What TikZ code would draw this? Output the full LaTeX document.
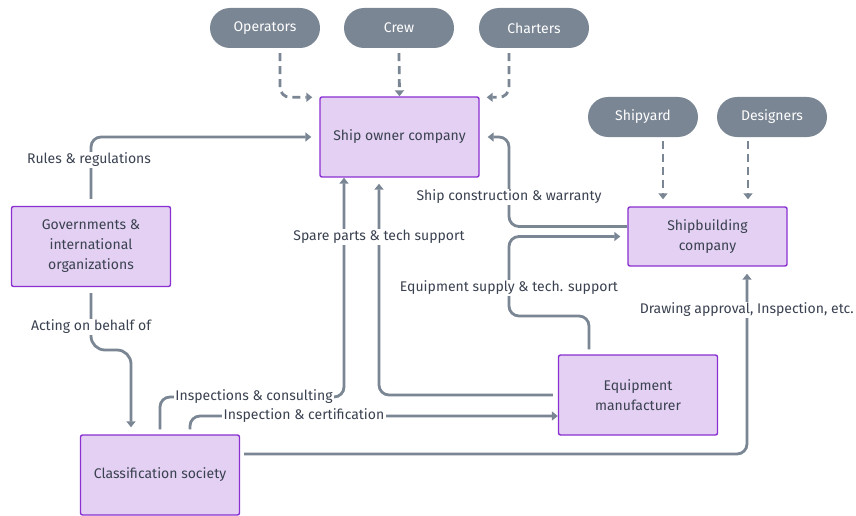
\documentclass[tikz,border=0pt]{standalone}
\usepackage{fontspec}
\setmainfont{Fira Sans}
\usetikzlibrary{arrows.meta,calc}
\definecolor{lineg}{HTML}{7A8694}
\definecolor{boxfill}{HTML}{E3D0F3}
\definecolor{boxdraw}{HTML}{8A2FD0}
\definecolor{txt}{HTML}{3A4150}
\tikzset{
  pill/.style={fill=lineg, text=white, rounded corners=20pt, minimum width=110pt, minimum height=40pt, font=\fontsize{14}{17}\selectfont, inner sep=0pt},
  entity/.style={fill=boxfill, draw=boxdraw, line width=1.4pt, rounded corners=2pt, minimum width=159pt, minimum height=80pt, text=txt, align=center, font=\fontsize{14}{20}\selectfont, inner sep=0pt},
  conn/.style={draw=lineg, line width=2.8pt, rounded corners=10pt, -{Triangle[length=6pt,width=9pt]}},
  dashconn/.style={conn, dash pattern=on 8pt off 5pt},
  lbl/.style={fill=white, text=txt, font=\fontsize{14}{17}\selectfont, inner sep=1.5pt}
}
\begin{document}
\begin{tikzpicture}[x=1pt,y=-1pt]
\useasboundingbox (0,0) rectangle (856,516);
% pills
\node[pill] (ops) at (265,28) {Operators};
\node[pill] (crew) at (399,28) {Crew};
\node[pill] (chart) at (534,28) {Charters};
\node[pill] (yard) at (643,117) {Shipyard};
\node[pill] (des) at (772,117) {Designers};
% entities
\node[entity] (owner) at (399.5,137) {Ship owner company};
\node[entity, minimum height=59pt] (builder) at (707.5,236.5) {Shipbuilding\\company};
\node[entity] (gov) at (91,246.5) {Governments \&\\international\\organizations};
\node[entity] (equip) at (638,395) {Equipment\\manufacturer};
\node[entity] (cls) at (160,475) {Classification society};
% helper coordinates
\coordinate (xsp) at (379,0);
\coordinate (xic) at (344,0);
\coordinate (xda) at (747,0);
\coordinate (ab) at (131,350);
\coordinate (ic) at (344,397);
\coordinate (sc) at (509,137);
\coordinate (es) at (509,316);
% dashed inputs
\draw[dashconn] ([xshift=15pt,yshift=-5pt]ops.south) |- ($(owner.north west)+(-7,1)$);
\draw[dashconn] ([yshift=-5pt]crew.south) -- (owner.north);
\draw[dashconn] ([xshift=-25pt,yshift=-5pt]chart.south) |- ($(owner.north east)+(7,1)$);
\draw[dashconn] ([xshift=20pt,yshift=-4pt]yard.south) -- ([xshift=-44.5pt,yshift=7pt]builder.north);
\draw[dashconn] ([xshift=-24pt,yshift=-4pt]des.south) -- ([xshift=40.5pt,yshift=7pt]builder.north);
% connectors
\draw[conn] ([yshift=7pt]gov.north) |- ([xshift=-8pt]owner.west);
\draw[conn, rounded corners=14pt] ([yshift=-6pt]gov.south) |- (ab) -- ([xshift=-29pt,yshift=7pt]cls.north);
\draw[conn] ([yshift=5pt]cls.north) |- (ic) -- (owner.south -| xic);
\draw[conn] ([xshift=30pt,yshift=5pt]cls.north) |- ([yshift=-21pt]equip.west);
\draw[conn] ([xshift=-5pt]equip.west) -| ([yshift=-6pt]owner.south -| xsp);
\draw[conn] ([xshift=4pt,yshift=21pt]cls.east) -| ([yshift=-7pt]builder.south -| xda);
\draw[conn] ([yshift=10pt]builder.west) -| (sc) -- ([xshift=8pt]owner.east);
\draw[conn] ([xshift=-49pt,yshift=5pt]equip.north) |- (es) |- ([xshift=-7pt]builder.west);
% labels
\node[lbl] (l1) at (89,160) {Rules \& regulations};
\node[lbl] (l2) at (91,327) {Acting on behalf of};
\node[lbl] (l3) at (254,397) {Inspections \& consulting};
\node[lbl] (l4) at (304,416) {Inspection \& certification};
\node[lbl] (l5) at (379,237) {Spare parts \& tech support};
\node[lbl] (l6) at (509,197) {Ship construction \& warranty};
\node[lbl] (l7) at (509,288) {Equipment supply \& tech. support};
\node[lbl, anchor=east] (l8) at (855.5,310) {Drawing approval, Inspection, etc.};
\end{tikzpicture}
\end{document}
